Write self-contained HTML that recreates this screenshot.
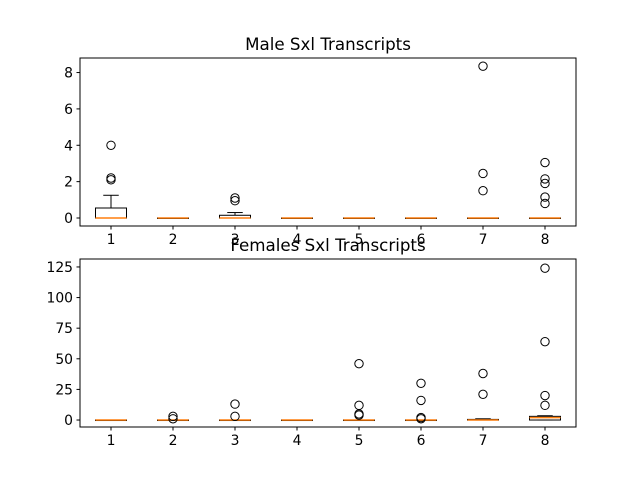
<!DOCTYPE html>
<html><head><meta charset="utf-8"><style>body{margin:0;background:#fff}svg{display:block;font-family:"DejaVu Sans","Liberation Sans",sans-serif}</style></head>
<body>
<svg id="c" width="640" height="480"></svg>
<script>
const categories=[1,2,3,4,5,6,7,8];
const maleStats=[[0,0,0.55,0,1.25],[0,0,0,0,0],[0,0,0.15,0,0.3],[0,0,0,0,0],[0,0,0,0,0],[0,0,0,0,0],[0,0,0,0,0],[0,0,0,0,0]];
const maleOutliers=[[2.1,2.2,4.0],[],[0.95,1.1],[],[],[],[1.5,2.45,8.35],[0.8,1.15,1.9,2.15,3.05]];
const maleTicks=[0,2,4,6,8];
const femaleStats=[[0,0,0,0,0],[0,0,0,0,0],[0,0,0,0,0],[0,0,0,0,0],[0,0,0,0,0],[0,0,0,0,0],[0,0,0.5,0,1],[0,2,3,0,3.5]];
const femaleOutliers=[[],[1,3],[3,13],[],[4,5,12,46],[1,2,16,30],[21,38],[12,20,64,124]];
const femaleTicks=[0,25,50,75,100,125];
const NS='http://www.w3.org/2000/svg',svg=document.getElementById('c');
function el(t,a,p){const e=document.createElementNS(NS,t);for(const k in a)e.setAttribute(k,a[k]);(p||svg).appendChild(e);return e;}
function panel(name,title,top,bot,ymin,ymax,stats,outs,ticks){
  const L=80,R=576;
  const g=el('g',{});
  
  
  const x=v=>L+(v-0.5)*(R-L)/8;
  const y=v=>bot-(v-ymin)*(bot-top)/(ymax-ymin);
  const t=el('text',{x:(L+R)/2,y:top-8,'text-anchor':'middle','font-size':16.7},g);t.textContent=title;
  
  
  categories.forEach((c,i)=>{
    const [q1,med,q3,wl,wh]=stats[i];const cx=x(c),hw=(R-L)/32;
    const b=el('g',{},g);
    
    
    el('line',{x1:cx,x2:cx,y1:y(q3),y2:y(wh),stroke:'#000'},b);
    el('line',{x1:cx-hw/2,x2:cx+hw/2,y1:y(wh),y2:y(wh),stroke:'#000'},b);
    el('line',{x1:cx,x2:cx,y1:y(q1),y2:y(wl),stroke:'#000'},b);
    el('line',{x1:cx-hw/2,x2:cx+hw/2,y1:y(wl),y2:y(wl),stroke:'#000'},b);
    el('rect',{x:cx-hw,y:y(q3),width:2*hw,height:Math.max(0.5,y(q1)-y(q3)),fill:'none',stroke:'#000'},b);
    el('line',{x1:cx-hw,x2:cx+hw,y1:y(med),y2:y(med),stroke:'#ff7f0e','stroke-width':1.5},b);
    outs[i].forEach(v=>{const o=el('circle',{cx:cx,cy:y(v),r:4.2,fill:'none',stroke:'#000'},b);
      
      });
    el('line',{x1:cx,x2:cx,y1:bot,y2:bot+3.5,stroke:'#000'},g);
    const tl=el('text',{x:cx,y:bot+18,'text-anchor':'middle','font-size':13.9},g);tl.textContent=c;
    
    
  });
  ticks.forEach(v=>{el('line',{x1:L-3.5,x2:L,y1:y(v),y2:y(v),stroke:'#000'},g);
    const tl=el('text',{x:L-7,y:y(v)+5,'text-anchor':'end','font-size':13.9},g);tl.textContent=v;
    
    });
  el('rect',{x:L,y:top,width:R-L,height:bot-top,fill:'none',stroke:'#000'},g);
}
panel('male-panel','Male Sxl Transcripts',58,226,-0.44,8.8,maleStats,maleOutliers,maleTicks);
panel('female-panel','Females Sxl Transcripts',259,427,-5.7,131.5,femaleStats,femaleOutliers,femaleTicks);
</script>
</body></html>
